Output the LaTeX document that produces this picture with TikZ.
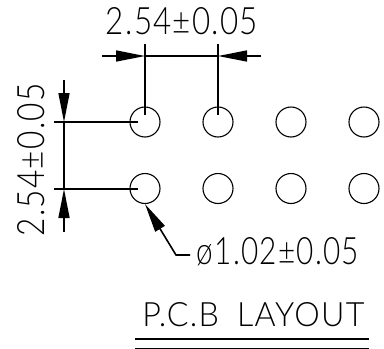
\documentclass[tikz,border=0pt]{standalone}
\usepackage{fontspec}
\usepackage{graphicx}
\usetikzlibrary{arrows.meta}
\setmainfont{Lato}[UprightFont=* Light,LetterSpace=4]
\tikzset{
  x=1pt,y=-1pt,
  hole/.style={circle,draw,line width=1.1pt,minimum size=30pt,inner sep=0pt},
  dim/.style={line width=1.6pt,line cap=butt},
  tipped/.style={dim,-{Triangle[length=29pt,width=11pt]}},
  lbl/.style={inner sep=0pt,font=\fontsize{31}{31}\selectfont}
}
\newcommand{\fitw}[3]{\resizebox{#1pt}{#2pt}{#3}}
\begin{document}
\begin{tikzpicture}
\useasboundingbox (0,0) rectangle (384,349);
\node[hole] (a1) at (145,122) {};
\node[hole] (a2) at (218,122) {};
\node[hole] (a3) at (291,122) {};
\node[hole] (a4) at (364,122) {};
\node[hole] (b1) at (145,188.5) {};
\node[hole] (b2) at (218,188.5) {};
\node[hole] (b3) at (291,188.5) {};
\node[hole] (b4) at (364,188.5) {};
% top dimension
\coordinate (tl) at (102,56);
\coordinate (tr) at (261,56);
\coordinate (p1) at (145,56);
\coordinate (p2) at (218,56);
\coordinate (e1t) at (145,44);
\coordinate (e2t) at (218,44);
\coordinate (e1b) at (145,115);
\coordinate (e2b) at (218,115);
\draw[tipped] (tl) -- (p1);
\draw[tipped] (tr) -- (p2);
\draw[dim] (p1) -- (p2);
\draw[dim] (e1t) -- (e1b);
\draw[dim] (e2t) -- (e2b);
% left dimension
\coordinate (vt) at (64,80);
\coordinate (vb) at (64,232);
\coordinate (q1) at (64,122);
\coordinate (q2) at (64,189);
\coordinate (f1l) at (54,122);
\coordinate (f2l) at (54,189);
\coordinate (f1r) at (138,122);
\coordinate (f2r) at (138,189);
\draw[tipped] (vt) -- (q1);
\draw[tipped] (vb) -- (q2);
\draw[dim] (q1) -- (q2);
\draw[dim] (f1l) -- (f1r);
\draw[dim] (f2l) -- (f2r);
% leader
\coordinate (lk) at (176,255);
\coordinate (le) at (190,255);
\draw[dim,{Triangle[length=29pt,width=11pt]}-] (b1.south) -- (lk) -- (le);
% text
\node[lbl] (t1) at (182,21) {\fitw{152}{27}{2.54±0.05}};
\node[lbl,rotate=90] (t2) at (31.5,160) {\fitw{153}{27}{2.54±0.05}};
\node[lbl] (t3) at (278,252) {\fitw{162}{27}{ø1.02±0.05}};
\node[lbl] (t4) at (253.5,315) {\fitw{222}{24}{P.C.B\hspace{0.25em} LAYOUT}};
% underline
\coordinate (u1l) at (135,339);
\coordinate (u1r) at (369,339);
\coordinate (u2l) at (135,348);
\coordinate (u2r) at (369,348);
\draw[line width=1.6pt] (u1l) -- (u1r);
\draw[line width=0.9pt] (u2l) -- (u2r);
\end{tikzpicture}
\end{document}
